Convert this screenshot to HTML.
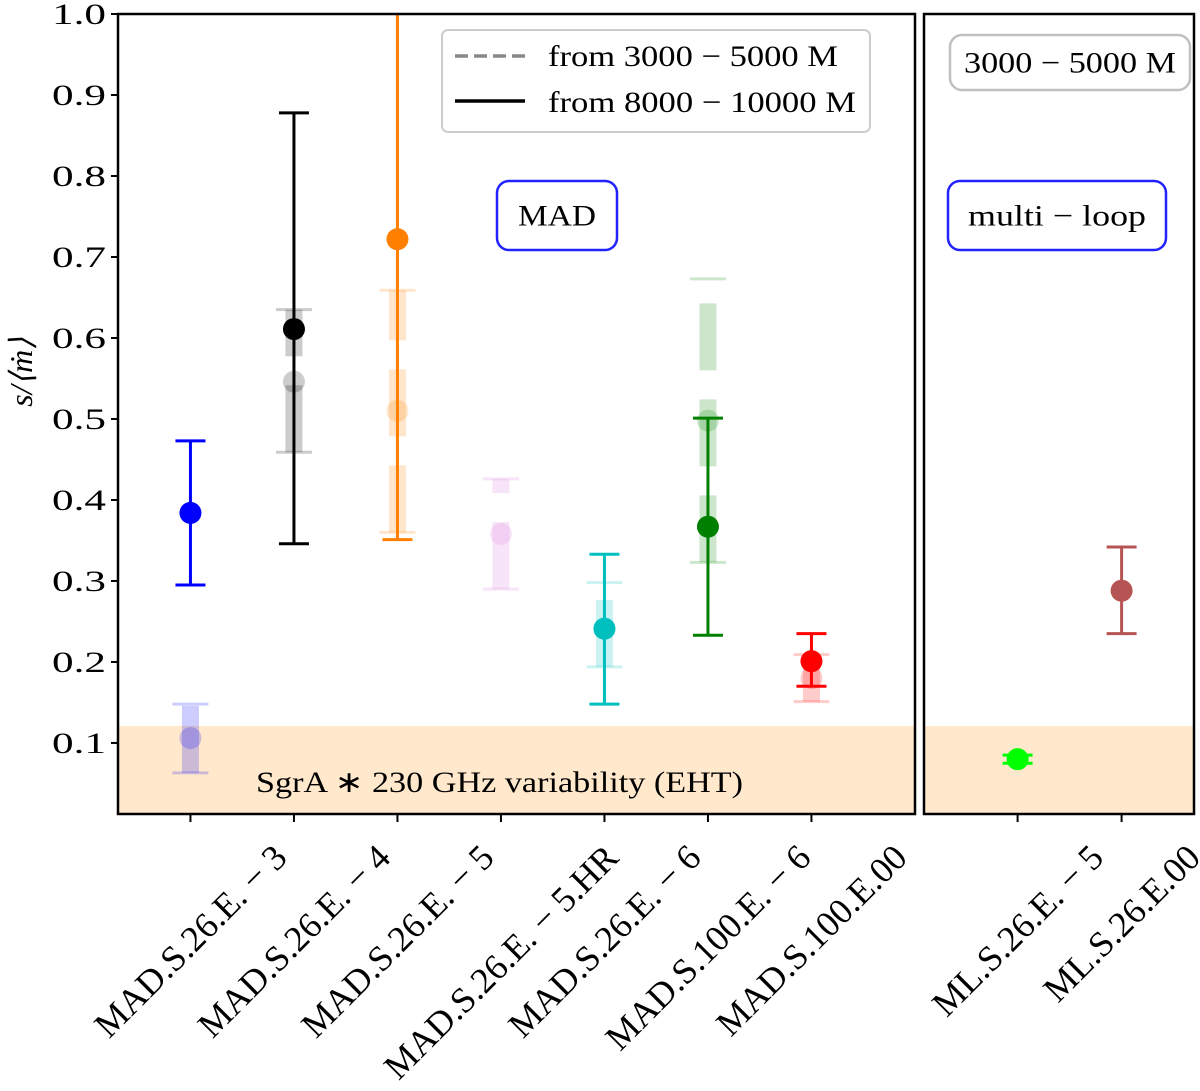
<!DOCTYPE html>
<html><head><meta charset="utf-8"><style>
html,body{margin:0;padding:0;background:#fff}
svg text{font-family:"Liberation Serif",serif;fill:#000}
</style></head><body>
<svg id="chart" width="1200" height="1086" xmlns="http://www.w3.org/2000/svg"></svg>
<script>
const categoriesL = ["MAD.S.26.E. − 3","MAD.S.26.E. − 4","MAD.S.26.E. − 5","MAD.S.26.E. − 5.HR","MAD.S.26.E. − 6","MAD.S.100.E. − 6","MAD.S.100.E.00"];
const colorsL = ["#0000ff","#000000","#ff8000","#dd77dd","#00bfbf","#008000","#ff0000"];
const lateVal = [0.384,0.611,0.722,null,0.241,0.367,0.201];
const lateHi  = [0.473,0.878,1.10,null,0.333,0.501,0.235];
const lateLo  = [0.295,0.346,0.351,null,0.148,0.233,0.170];
const earlyVal = [0.106,0.546,0.510,0.358,0.242,0.498,0.180];
const earlyHi  = [0.148,0.635,0.659,0.426,0.298,0.673,0.209];
const earlyLo  = [0.063,0.459,0.360,0.290,0.194,0.323,0.151];
const categoriesR = ["ML.S.26.E. − 5","ML.S.26.E.00"];
const colorsR = ["#00ff00","#a52a2a"];
const mlVal = [0.080,0.288];
const mlHi  = [0.085,0.342];
const mlLo  = [0.075,0.235];
const yTicks = [0.1,0.2,0.3,0.4,0.5,0.6,0.7,0.8,0.9,1.0];
const ehtLevel = 0.121;

const NS="http://www.w3.org/2000/svg";
const svg=document.getElementById('chart');
const T=14,B=814,yMin=0.0123,yMax=1.0;
const y=v=>B-(v-yMin)/(yMax-yMin)*(B-T);
const L1=118,R1=915,L2=924,R2=1194;
const xL=i=>L1+(i+0.7)*103.5;
const xR=i=>L2+(i+0.9)*104;
function mk(tag,attrs,parent){const e=document.createElementNS(NS,tag);for(const k in attrs)e.setAttribute(k,attrs[k]);(parent||svg).appendChild(e);return e;}
const defs=mk('defs',{});
const c1=mk('clipPath',{id:'c1'},defs);mk('rect',{x:L1,y:T,width:R1-L1,height:B-T},c1);
const c2=mk('clipPath',{id:'c2'},defs);mk('rect',{x:L2,y:T,width:R2-L2,height:B-T},c2);
const g1=mk('g',{'clip-path':'url(#c1)'});


const g2=mk('g',{'clip-path':'url(#c2)'});


let e=mk('rect',{x:L1,y:y(ehtLevel),width:R1-L1,height:B-y(ehtLevel),fill:'#ffe8cc'},g1);


e=mk('rect',{x:L2,y:y(ehtLevel),width:R2-L2,height:B-y(ehtLevel),fill:'#ffe8cc'},g2);


const t=mk('text',{x:256,y:792,'font-size':30,textLength:487,lengthAdjust:'spacingAndGlyphs'});t.textContent='SgrA ∗  230 GHz variability (EHT)';



function errbar(g,x,v,hi,lo,col,faded,name){
  const grp=mk('g',{},g);
  
  
  if(faded){
    mk('line',{x1:x,x2:x,y1:y(lo),y2:y(hi),stroke:col,'stroke-width':17,'stroke-opacity':0.2,'stroke-dasharray':'67 29'},grp);
    mk('line',{x1:x-18,x2:x+18,y1:y(hi),y2:y(hi),stroke:col,'stroke-width':3,'stroke-opacity':0.2},grp);
    mk('line',{x1:x-18,x2:x+18,y1:y(lo),y2:y(lo),stroke:col,'stroke-width':3,'stroke-opacity':0.2},grp);
    mk('circle',{cx:x,cy:y(v),r:11,fill:col,'fill-opacity':0.2},grp);
  }else{
    mk('line',{x1:x,x2:x,y1:y(lo),y2:y(hi),stroke:col,'stroke-width':3},grp);
    mk('line',{x1:x-15,x2:x+15,y1:y(hi),y2:y(hi),stroke:col,'stroke-width':3},grp);
    mk('line',{x1:x-15,x2:x+15,y1:y(lo),y2:y(lo),stroke:col,'stroke-width':3},grp);
    mk('circle',{cx:x,cy:y(v),r:11,fill:col},grp);
  }
  return grp;
}
categoriesL.forEach((c,i)=>errbar(g1,xL(i),earlyVal[i],earlyHi[i],earlyLo[i],colorsL[i],true,'early-errorbar-'+i));
categoriesL.forEach((c,i)=>{if(lateVal[i]!==null)errbar(g1,xL(i),lateVal[i],lateHi[i],lateLo[i],colorsL[i],false,'late-errorbar-'+i);});
categoriesR.forEach((c,i)=>{const g=errbar(g2,xR(i),mlVal[i],mlHi[i],mlLo[i],colorsR[i],false,'ml-errorbar-'+i); if(i==1)g.setAttribute('opacity','0.8');});

e=mk('rect',{x:L1,y:T,width:R1-L1,height:B-T,fill:'none',stroke:'#000','stroke-width':2.5});


e=mk('rect',{x:L2,y:T,width:R2-L2,height:B-T,fill:'none',stroke:'#000','stroke-width':2.5});



yTicks.forEach(v=>{
  mk('line',{x1:L1-7,x2:L1,y1:y(v),y2:y(v),stroke:'#000','stroke-width':2});
  const tx=mk('text',{x:L1-12,y:y(v)+10,'font-size':30,'text-anchor':'end',textLength:54,lengthAdjust:'spacingAndGlyphs'});tx.textContent=v.toFixed(1);
  
  
});
const yl=mk('text',{x:0,y:0,'font-size':32,'font-style':'italic','text-anchor':'middle',transform:'translate(32,372) rotate(-90)'});
yl.textContent='s/⟨ṁ⟩';



function xlabel(x,txt){
  mk('line',{x1:x,x2:x,y1:B,y2:B+8,stroke:'#000','stroke-width':2});
  const tx=mk('text',{x:0,y:0,'font-size':36,'text-anchor':'middle','dominant-baseline':'central'});
  tx.textContent=txt;
  
  
  const Lw=tx.getComputedTextLength();
  const h=26;
  const cy=842+(Lw+h)/(2*Math.SQRT2);
  tx.setAttribute('transform',`translate(${x},${cy}) rotate(-45)`);
}
categoriesL.forEach((c,i)=>xlabel(xL(i),c));
categoriesR.forEach((c,i)=>xlabel(xR(i),c));

const lg=mk('g',{});


mk('rect',{x:442,y:30,width:428,height:102,rx:6,fill:'#fff','fill-opacity':0.85,stroke:'#ccc','stroke-width':2},lg);
mk('line',{x1:455,x2:525,y1:56,y2:56,stroke:'#888','stroke-width':3.5,'stroke-dasharray':'13 6'},lg);
mk('line',{x1:455,x2:525,y1:101,y2:101,stroke:'#000','stroke-width':3.5},lg);
let lt=mk('text',{x:548,y:66,'font-size':30,textLength:290,lengthAdjust:'spacingAndGlyphs'},lg);lt.textContent='from 3000 − 5000 M';
lt=mk('text',{x:548,y:112,'font-size':30,textLength:308,lengthAdjust:'spacingAndGlyphs'},lg);lt.textContent='from 8000 − 10000 M';

function box(x,yy,w,h,col,txt,name,tl){
  const g=mk('g',{});
  
  
  mk('rect',{x:x,y:yy,width:w,height:h,rx:12,fill:'#fff',stroke:col,'stroke-width':2.5},g);
  const tx=mk('text',{x:x+w/2,y:yy+h/2+10,'font-size':30,'text-anchor':'middle',textLength:tl,lengthAdjust:'spacingAndGlyphs'},g);tx.textContent=txt;
}
box(497,181,120,69,'#2222ff','MAD','mad-box',78);
box(948,181,218,69,'#2222ff','multi − loop','multi-loop-box',178);
box(950,35,240,55,'#c0c0c0','3000 − 5000 M','time-range-box',212);
</script>
</body></html>
